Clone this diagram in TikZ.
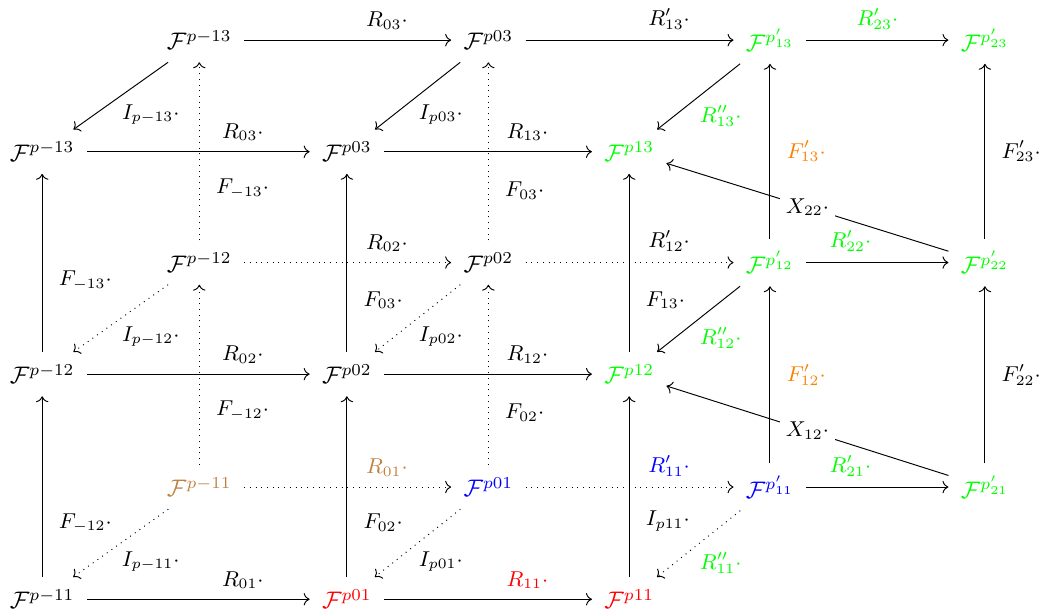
\documentclass[tikz,border=0pt]{standalone}
\usepackage{amsmath}
\usetikzlibrary{arrows.meta}
\begin{document}
\begin{tikzpicture}[>={Computer Modern Rightarrow},
  obj/.style={inner sep=5pt},
  lbl/.style={font=\small},
  dlbl/.style={font=\small, below right, xshift=-3pt},
  hid/.style={dotted},
  desc/.style={font=\small, fill=white, inner sep=2.5pt}]
\useasboundingbox (0,0) rectangle (15.29,-8.97);
% back layer
\node[obj] (b3) at (2.93, -0.59) {$\mathcal{F}^{p-13}$};
\node[obj] (d3) at (7.18, -0.59) {$\mathcal{F}^{p03}$};
\node[obj, green] (f3) at (11.32, -0.59) {$\mathcal{F}^{p'_{13}}$};
\node[obj, green] (g3) at (14.48, -0.59) {$\mathcal{F}^{p'_{23}}$};
\node[obj] (b2) at (2.93, -3.86) {$\mathcal{F}^{p-12}$};
\node[obj] (d2) at (7.18, -3.86) {$\mathcal{F}^{p02}$};
\node[obj, green] (f2) at (11.32, -3.86) {$\mathcal{F}^{p'_{12}}$};
\node[obj, green] (g2) at (14.48, -3.86) {$\mathcal{F}^{p'_{22}}$};
\node[obj, brown] (b1) at (2.93, -7.16) {$\mathcal{F}^{p-11}$};
\node[obj, blue] (d1) at (7.18, -7.16) {$\mathcal{F}^{p01}$};
\node[obj, blue] (f1) at (11.32, -7.16) {$\mathcal{F}^{p'_{11}}$};
\node[obj, green] (g1) at (14.48, -7.16) {$\mathcal{F}^{p'_{21}}$};
% front layer
\node[obj] (a3) at (0.62, -2.23) {$\mathcal{F}^{p-13}$};
\node[obj] (c3) at (5.10, -2.23) {$\mathcal{F}^{p03}$};
\node[obj, green] (e3) at (9.25, -2.23) {$\mathcal{F}^{p13}$};
\node[obj] (a2) at (0.62, -5.50) {$\mathcal{F}^{p-12}$};
\node[obj] (c2) at (5.10, -5.50) {$\mathcal{F}^{p02}$};
\node[obj, green] (e2) at (9.25, -5.50) {$\mathcal{F}^{p12}$};
\node[obj] (a1) at (0.62, -8.81) {$\mathcal{F}^{p-11}$};
\node[obj, red] (c1) at (5.10, -8.81) {$\mathcal{F}^{p01}$};
\node[obj, red] (e1) at (9.25, -8.81) {$\mathcal{F}^{p11}$};

% back horizontals
\draw[->] (b3) -- node[lbl, above=1pt, pos=0.69] {$R_{03}\cdot$} (d3);
\draw[->] (d3) -- node[lbl, above=1pt, pos=0.69] {$R'_{13}\cdot$} (f3);
\draw[->] (f3) -- node[lbl, green, above=1pt, pos=0.5] {$R'_{23}\cdot$} (g3);
\draw[->, hid] (b2) -- node[lbl, above=1pt, pos=0.69] {$R_{02}\cdot$} (d2);
\draw[->, hid] (d2) -- node[lbl, above=1pt, pos=0.69] {$R'_{12}\cdot$} (f2);
\draw[->] (f2) -- node[lbl, green, above=1pt, pos=0.31] {$R'_{22}\cdot$} (g2);
\draw[->, hid] (b1) -- node[lbl, brown, above=1pt, pos=0.69] {$R_{01}\cdot$} (d1);
\draw[->, hid] (d1) -- node[lbl, blue, above=1pt, pos=0.69] {$R'_{11}\cdot$} (f1);
\draw[->] (f1) -- node[lbl, green, above=1pt, pos=0.31] {$R'_{21}\cdot$} (g1);
% back verticals
\draw[->, hid] (b1) -- node[lbl, right=3.5pt, pos=0.3] {$F_{-12}\cdot$} (b2);
\draw[->, hid] (b2) -- node[lbl, right=3.5pt, pos=0.29] {$F_{-13}\cdot$} (b3);
\draw[->, hid] (d1) -- node[lbl, right=3.5pt, pos=0.29] {$F_{02}\cdot$} (d2);
\draw[->, hid] (d2) -- node[lbl, right=3.5pt, pos=0.28] {$F_{03}\cdot$} (d3);
\draw[->] (f1) -- node[lbl, orange, right=3.5pt, pos=0.5] {$F'_{12}\cdot$} (f2);
\draw[->] (f2) -- node[lbl, orange, right=3.5pt, pos=0.5] {$F'_{13}\cdot$} (f3);
\draw[->] (g1) -- node[lbl, right=3.5pt, pos=0.5] {$F'_{22}\cdot$} (g2);
\draw[->] (g2) -- node[lbl, right=3.5pt, pos=0.5] {$F'_{23}\cdot$} (g3);
% back to front
\draw[->] (b3) -- node[dlbl] {$I_{p-13}\cdot$} (a3);
\draw[->] (d3) -- node[dlbl] {$I_{p03}\cdot$} (c3);
\draw[->] (f3) -- node[dlbl, green] {$R''_{13}\cdot$} (e3);
\draw[->, hid] (b2) -- node[dlbl] {$I_{p-12}\cdot$} (a2);
\draw[->, hid] (d2) -- node[dlbl] {$I_{p02}\cdot$} (c2);
\draw[->] (f2) -- node[dlbl, green] {$R''_{12}\cdot$} (e2);
\draw[->, hid] (b1) -- node[dlbl] {$I_{p-11}\cdot$} (a1);
\draw[->, hid] (d1) -- node[dlbl] {$I_{p01}\cdot$} (c1);
\draw[->, hid] (f1) -- node[dlbl, green] {$R''_{11}\cdot$} (e1);
\draw[->] (g2) -- node[desc] {$X_{22}\cdot$} (e3);
\draw[->] (g1) -- node[desc] {$X_{12}\cdot$} (e2);
% front horizontals
\draw[->] (a3) -- node[lbl, above=1pt, pos=0.7] {$R_{03}\cdot$} (c3);
\draw[->] (c3) -- node[lbl, above=1pt, pos=0.69] {$R_{13}\cdot$} (e3);
\draw[->] (a2) -- node[lbl, above=1pt, pos=0.7] {$R_{02}\cdot$} (c2);
\draw[->] (c2) -- node[lbl, above=1pt, pos=0.69] {$R_{12}\cdot$} (e2);
\draw[->] (a1) -- node[lbl, above=1pt, pos=0.7] {$R_{01}\cdot$} (c1);
\draw[->] (c1) -- node[lbl, red, above=1pt, pos=0.69] {$R_{11}\cdot$} (e1);
% front verticals
\draw[->] (a1) -- node[lbl, right=3.5pt, pos=0.3] {$F_{-12}\cdot$} (a2);
\draw[->] (a2) -- node[lbl, right=3.5pt, pos=0.4] {$F_{-13}\cdot$} (a3);
\draw[->] (c1) -- node[lbl, right=3.5pt, pos=0.3] {$F_{02}\cdot$} (c2);
\draw[->] (c2) -- node[lbl, right=3.5pt, pos=0.29] {$F_{03}\cdot$} (c3);
\draw[->] (e1) -- node[lbl, right=3.5pt, pos=0.31] {$I_{p11}\cdot$} (e2);
\draw[->] (e2) -- node[lbl, right=3.5pt, pos=0.29] {$F_{13}\cdot$} (e3);
\end{tikzpicture}
\end{document}
